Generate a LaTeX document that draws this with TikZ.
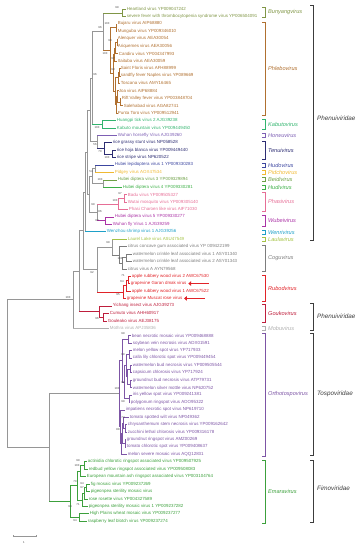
\documentclass[tikz,border=0pt]{standalone}
\usepackage{fontspec}
\setmainfont{Liberation Sans}
\usepackage{xcolor}
\usepackage{tikz}
\usetikzlibrary{arrows.meta}
\definecolor{cbunya}{RGB}{128,150,70}
\definecolor{cphlebo}{RGB}{176,112,48}
\definecolor{ckabuto}{RGB}{50,180,110}
\definecolor{chorwu}{RGB}{125,95,180}
\definecolor{ctenui}{RGB}{45,45,115}
\definecolor{chudo}{RGB}{60,70,160}
\definecolor{cpidcho}{RGB}{240,185,50}
\definecolor{cbeidi}{RGB}{110,160,70}
\definecolor{chudi}{RGB}{60,175,70}
\definecolor{cphasi}{RGB}{230,110,150}
\definecolor{cwubei}{RGB}{170,50,165}
\definecolor{cwenri}{RGB}{30,160,200}
\definecolor{claula}{RGB}{165,195,70}
\definecolor{ccogu}{RGB}{125,125,125}
\definecolor{crubod}{RGB}{225,35,40}
\definecolor{cgouko}{RGB}{190,30,60}
\definecolor{cmobu}{RGB}{175,175,175}
\definecolor{ctospo}{RGB}{125,85,165}
\definecolor{cemara}{RGB}{60,160,60}
\definecolor{cback}{RGB}{150,150,150}
\definecolor{cfam}{RGB}{60,60,60}
% row of leaf number #1
\pgfmathdeclarefunction{ly}{1}{\pgfmathparse{9+7.42*(#1-1)}}

\begin{document}
\begin{tikzpicture}[x=0.5mm, y=-0.5mm,
    leaf/.style={anchor=west, inner sep=1pt, font=\fontsize{6.3}{6.3}\selectfont},
    bs/.style={inner sep=0pt, font=\fontsize{4}{4}\selectfont, text=black!75},
    br/.style={line width=0.4pt},
    genus/.style={anchor=west, inner sep=0pt, font=\fontsize{8}{8}\selectfont\itshape},
    family/.style={anchor=west, inner sep=0pt, font=\fontsize{9}{9}\selectfont\itshape, text=cfam},
    gbrack/.style={line width=0.5pt},
    fbrack/.style={line width=1.4pt, draw=cfam},
    pick/.style={draw=crubod, line width=2pt, {Triangle[length=4pt,width=6.5pt]}-}]
  \useasboundingbox (0,0) rectangle (362,550);

  % --- leaves ---
  \foreach \i/\x/\t in {1/127/Heartland virus YP009047242,
      2/127/severe fever with thrombocytopenia syndrome virus YP006504091}
    \node[leaf, text=cbunya] (L\i) at (\x-1,{ly(\i)}) {\t};
  \foreach \i/\x/\t in {3/118/Bujaru virus AIP68880, 4/118/Munguba virus YP009346010,
      5/118/Alenquer virus AEA30054, 6/118/Ariquemes virus AEA30056,
      7/119/Candiru virus YP004347993, 8/118/Itaituba virus AEA30059,
      9/121/Saint Floris virus AFH88999, 10/121/sandfly fever Naples virus YP089669,
      11/121/Toscana virus AMY16465, 12/119/Joa virus AIP68884,
      13/122/Rift Valley fever virus YP003848704, 14/124/Salehabad virus AGA82741,
      15/118/Punta Toro virus YP009512941}
    \node[leaf, text=cphlebo] (L\i) at (\x-1,{ly(\i)}) {\t};
  \foreach \i/\x/\t in {16/117/Huangpi tick virus 2 AJG39238, 17/117/Kabuto mountain virus YP009449450}
    \node[leaf, text=ckabuto] (L\i) at (\x-1,{ly(\i)}) {\t};
  \node[leaf, text=chorwu] (L18) at (117,{ly(18)}) {Wuhan horsefly Virus AJG39260};
  \foreach \i/\x/\t in {19/113/rice grassy stunt virus NP058528, 20/117/rice hoja blanca virus YP009449440,
      21/117/rice stripe virus NP620522}
    \node[leaf, text=ctenui] (L\i) at (\x-1,{ly(\i)}) {\t};
  \node[leaf, text=chudo] (L22) at (114,{ly(22)}) {Hubei lepidoptera virus 1 YP009330283};
  \node[leaf, text=cpidcho] (L23) at (114,{ly(23)}) {Pidgey virus AOX47534};
  \node[leaf, text=cbeidi] (L24) at (117,{ly(24)}) {Hubei diptera virus 3 YP009329894};
  \node[leaf, text=chudi] (L25) at (122,{ly(25)}) {Hubei diptera virus 4 YP009330281};
  \foreach \i/\x/\t in {26/128/Badu virus YP009505327, 27/128/Wutai mosquito virus YP009305140,
      28/129/Phasi Charoen like virus AIF71030}
    \node[leaf, text=cphasi] (L\i) at (\x-1,{ly(\i)}) {\t};
  \foreach \i/\x/\t in {29/115/Hubei diptera virus 5 YP009330277, 30/113/Wuhan fly Virus 1 AJG39259}
    \node[leaf, text=cwubei] (L\i) at (\x-1,{ly(\i)}) {\t};
  \node[leaf, text=cwenri] (L31) at (106,{ly(31)}) {Wenzhou shrimp virus 1 AJG39256};
  \node[leaf, text=claula] (L32) at (127,{ly(32)}) {Laurel Lake virus ASU47549};
  \foreach \i/\x/\t in {33/128/citrus concave gum associated virus YP 009422199,
      34/133/watermelon crinkle leaf associated virus 1 ASY01340,
      35/133/watermelon crinkle leaf associated virus 2 ASY01343,
      36/128/citrus virus A AYN79568}
    \node[leaf, text=ccogu] (L\i) at (\x-1,{ly(\i)}) {\t};
  \foreach \i/\x/\t in {37/132/apple rubbery wood virus 2 AWC67530, 38/131/grapevine Garan dmak virus,
      39/132/apple rubbery wood virus 1 AWC67522, 40/127/grapevine Muscat rose virus}
    \node[leaf, text=crubod] (L\i) at (\x-1,{ly(\i)}) {\t};
  \foreach \i/\x/\t in {41/113/Yichang insect virus AJG39273, 42/110/Cumuto virus AHH60917,
      43/108/Gouleako virus AEJ38175}
    \node[leaf, text=cgouko] (L\i) at (\x-1,{ly(\i)}) {\t};
  \node[leaf, text=cmobu] (L44) at (109,{ly(44)}) {Mothra virus APJ35836};
  \foreach \i/\x/\t in {45/132/bean necrotic mosaic virus YP009468888,
      46/133/soybean vein necrosis virus ADX01591, 47/133/melon yellow spot virus YP717933,
      48/133/calla lily chlorotic spot virus YP009449454, 49/133/watermelon bud necrosis virus YP009505544,
      50/133/capsicum chlorosis virus YP717924, 51/133/groundnut bud necrosis virus ATP79731,
      52/133/watermelon silver mottle virus NP620752, 53/133/iris yellow spot virus YP009241381,
      54/131/polygonum ringspot virus AOO95322, 55/126/impatiens necrotic spot virus NP619710,
      56/130/tomato spotted wilt virus NP049362, 57/128/chrysanthemum stem necrosis virus YP009162642,
      58/128/zucchini lethal chlorosis virus YP009316178, 59/127/groundnut ringspot virus AMZ00269,
      60/127/tomato chlorotic spot virus YP009408637, 61/128/melon severe mosaic virus AQQ12831}
    \node[leaf, text=ctospo] (L\i) at (\x-1,{ly(\i)}) {\t};
  \foreach \i/\x/\t in {62/88/actinidia chlorotic ringspot associated virus YP009507925,
      63/89/redbud yellow ringspot associated virus YP009508083,
      64/87/European mountain ash ringspot associated virus YP003104764,
      65/91/fig mosaic virus YP009237269, 66/91/pigeonpea sterility mosaic virus,
      67/89/rose rosette virus YP004327589, 68/89/pigeonpea sterility mosaic virus 1 YP009237282,
      69/90/High Plains wheat mosaic virus YP009237277, 70/88/raspberry leaf blotch virus YP009237274}
    \node[leaf, text=cemara] (L\i) at (\x-1,{ly(\i)}) {\t};

  % --- internal nodes ---
  \foreach \n/\x/\k in {bunya/122/1.5, P1/116/3.5, P2/117/5.5, P3/115/6.25, P4/114/7.125,
      P5a/119.5/9.5, P5/118/10.25, P6a/120/13.5, P6b/117.5/12.75, P6/116.5/13.875,
      P7/115/12.06, Pr/113/9.59, Pphl/110/6.55, U1/103/4.02, K/102/16.5, U2/92/10.26,
      T1/112/20.5, T0/104/19.75, HT/97/18.875, U3/90/14.57, HP/95/22.5, BH/103/24.5,
      HPBH/92/23.5, Ph1/124/26.5, Ph0/118/27.25, Wub/105/29.5, PW/97/28.375, X/89/25.94,
      U4/87/20.25, U5/85/25.63, Cx/126/34.5, Cy/122/35.25, Cogu/119/34.125, LC/112/33.06,
      R2/128/37.5, R1/126/38.25, R0/123/39.125, LCR/97/36.1, Phe2/83/30.86,
      Gk1/103/42.5, Gk0/99/41.75, Phe1/79/36.3, Phe0/73/40.15,
      Ta/128/45.5, Tb/129/47.5, Tc/130/49.5, Td/130/51.5, Tcd/127/50.5, Tbcd/126/49,
      Te/129/53.5, Trest/124/51.25, TA/122/48.375, Tf/125/57.5, Tg/123.5/56.75,
      Th/125/59.5, Ti/122.5/58.125, Tj/121.5/59.56, TB/120/57.28, Tr/119/52.83,
      E1a/84/62.5, E1/80/63.25, E2a/86/65.5, E2b/84/66.25, E2/82/67.125, Eup/77/65.19,
      Elow/79/69.5, E0/70/67.34, TF/49/60.09, root/7/50.12}
    \coordinate (\n) at (\x,{ly(\k)});

  % --- branches (in the colour of the upper node) ---
  \foreach \a/\b in {bunya/L1, bunya/L2}
    \draw[br, cbunya] (\a) |- (\b.west);
  \foreach \a/\b in {P1/L3, P1/L4, P2/L5, P2/L6, P3/P2, P3/L7, P4/P3, P4/L8, P5a/L9, P5a/L10,
      P5/P5a, P5/L11, P6a/L13, P6a/L14, P6b/L12, P6b/P6a, P6/P6b, P6/L15, P7/P5, P7/P6,
      Pr/P4, Pr/P7, Pphl/P1, Pphl/Pr}
    \draw[br, cphlebo] (\a) |- (\b.west);
  \foreach \a/\b in {U1/bunya, U1/Pphl, U2/U1, U2/K, U3/U2, U3/HT, U4/U3, U4/X, X/HPBH, X/PW,
      U5/U4, U5/L31, Phe2/U5, Phe2/LCR, Phe1/Phe2, Phe1/Gk0, Phe0/Phe1, Phe0/L44,
      root/Phe0, root/TF, HPBH/HP, HPBH/BH, HP/L22, HP/L23, BH/L24, BH/L25, HT/L18, HT/T0,
      PW/Ph0, PW/Wub, LCR/LC, LCR/R0, LC/L32, LC/Cogu, TF/Tr, TF/E0}
    \draw[br, cback] (\a) |- (\b.west);
  \foreach \a/\b in {K/L16, K/L17}
    \draw[br, ckabuto] (\a) |- (\b.west);
  \foreach \a/\b in {T0/L19, T0/T1, T1/L20, T1/L21}
    \draw[br, ctenui] (\a) |- (\b.west);
  \foreach \a/\b in {Ph0/Ph1, Ph0/L28, Ph1/L26, Ph1/L27}
    \draw[br, cphasi] (\a) |- (\b.west);
  \foreach \a/\b in {Wub/L29, Wub/L30}
    \draw[br, cwubei] (\a) |- (\b.west);
  \foreach \a/\b in {Cogu/L33, Cogu/Cy, Cy/Cx, Cy/L36, Cx/L34, Cx/L35}
    \draw[br, ccogu] (\a) |- (\b.west);
  \foreach \a/\b in {R0/R1, R0/L40, R1/R2, R1/L39, R2/L37, R2/L38}
    \draw[br, crubod] (\a) |- (\b.west);
  \foreach \a/\b in {Gk0/L41, Gk0/Gk1, Gk1/L42, Gk1/L43}
    \draw[br, cgouko] (\a) |- (\b.west);
  \foreach \a/\b in {Tr/TA, Tr/TB, TA/Ta, TA/Trest, Ta/L45, Ta/L46, Trest/Tbcd, Trest/Te,
      Tbcd/Tb, Tbcd/Tcd, Tb/L47, Tb/L48, Tcd/Tc, Tcd/Td, Tc/L49, Tc/L50, Td/L51, Td/L52,
      Te/L53, Te/L54, TB/L55, TB/Tj, Tj/Ti, Tj/L61, Ti/Tg, Ti/Th, Tg/L56, Tg/Tf,
      Tf/L57, Tf/L58, Th/L59, Th/L60}
    \draw[br, ctospo] (\a) |- (\b.west);
  \foreach \a/\b in {E0/Eup, E0/Elow, Eup/E1, Eup/E2, E1/E1a, E1/L64, E1a/L62, E1a/L63,
      E2/E2b, E2/L68, E2b/E2a, E2b/L67, E2a/L65, E2a/L66, Elow/L69, Elow/L70}
    \draw[br, cemara] (\a) |- (\b.west);
  % stems into a genus take the genus colour
  \foreach \a/\b/\c in {U1/bunya/cbunya, U1/Pphl/cphlebo, U2/K/ckabuto, HT/L18/chorwu,
      HT/T0/ctenui, HP/L22/chudo, HP/L23/cpidcho, BH/L24/cbeidi, BH/L25/chudi,
      PW/Ph0/cphasi, PW/Wub/cwubei, U5/L31/cwenri, LC/L32/claula, LC/Cogu/ccogu,
      LCR/R0/crubod, Phe1/Gk0/cgouko, Phe0/L44/cmobu, TF/E0/cemara}
    \draw[br, \c] (\a |- \b.west) -- (\b.west);

  % --- bootstrap values ---
  \foreach \n/\x/\y/\v in {1/117/8/99, 2/100/28/96, 3/107/24/100, 4/110/41/98, 5/105/54/100,
      6/113/59/97, 7/113/70/93, 8/95/75/96, 9/97/128/100, 10/95/145/56, 11/100/152/70,
      12/107/158/100, 13/91/172/54, 14/100/180/100, 15/120/194/97, 16/115/201/100,
      17/93/205/99, 18/100/212/86, 19/97/221/93, 20/108/243/99, 21/120/259/100,
      22/92/273/92, 23/123/276/71, 24/122/282/64, 25/118/295/95, 26/68/298/100,
      27/97/319/96, 28/123/334/99, 29/123/355/99, 30/123/383/98, 31/117/389/100,
      32/123/402/99, 33/123/418/74, 34/118/430/88, 35/78/461/99, 36/77/466/100,
      37/75/482/70, 38/82/484/94, 39/82/488/97, 40/78/505/71, 41/70/507/94, 42/75/521/94}
    \node[bs] (bs\n) at (\x,\y) {\v};

  % --- picked viruses ---
  \draw[pick] (L38.east) ++(1,0) -- ++(21,0);
  \draw[pick] (L40.east) ++(1,0) -- ++(21,0);

  % --- genera ---
  \foreach \g/\ya/\yb/\c in {Bunyangvirus/7/17/cbunya, Phlebovirus/22/115/cphlebo,
      Kabutovirus/119/129/ckabuto, Horwuvirus/133/137/chorwu, Tenuivirus/141/159/ctenui,
      Hudovirus/163/167/chudo, Pidchovirus/170/174/cpidcho, Beidivirus/177/181/cbeidi,
      Hudivirus/185/189/chudi, Phasivirus/192/211/cphasi, Wubeivirus/215/226/cwubei,
      Wenrivirus/230/234/cwenri, Laulavirus/237/241/claula, Coguvirus/245/271/ccogu,
      Rubodvirus/275/301/crubod, Goukovirus/304/322/cgouko, Mobuvirus/326/330/cmobu,
      Orthotospovirus/333/456/ctospo, Emaravirus/460/523/cemara}
  {
    \draw[gbrack, \c] (262,\ya) -- (265,\ya) -- (265,\yb) -- (262,\yb);
    \node[genus, text=\c] (g-\g) at (268,{(\ya+\yb)/2}) {\g};
  }

  % --- families ---
  \draw[fbrack] (310,5) -- (313,5) -- (313,240) -- (310,240);
  \draw[fbrack] (310,303) -- (313,303) -- (313,330) -- (310,330);
  \draw[fbrack] (310,333) -- (313,333) -- (313,455) -- (310,455);
  \draw[fbrack] (310,460) -- (313,460) -- (313,522) -- (310,522);
  \node[family] (f-phe1) at (317,118) {Phenuiviridae};
  \node[family] (f-phe2) at (317,316) {Phenuiviridae};
  \node[family] (f-tospo) at (317,394) {Tospoviridae};
  \node[family] (f-fimo) at (317,488) {Fimoviridae};

  % --- scale ---
  \draw[cback, line width=0.5pt] (13,536) coordinate (sa) -- (36,536) coordinate (sb);
  \draw[cback] (sa) ++(0,-1) -- ++(0,2);
  \draw[cback] (sb) ++(0,-1) -- ++(0,2);
  \node[bs] (scale) at (24,543) {1};
\end{tikzpicture}
\end{document}
